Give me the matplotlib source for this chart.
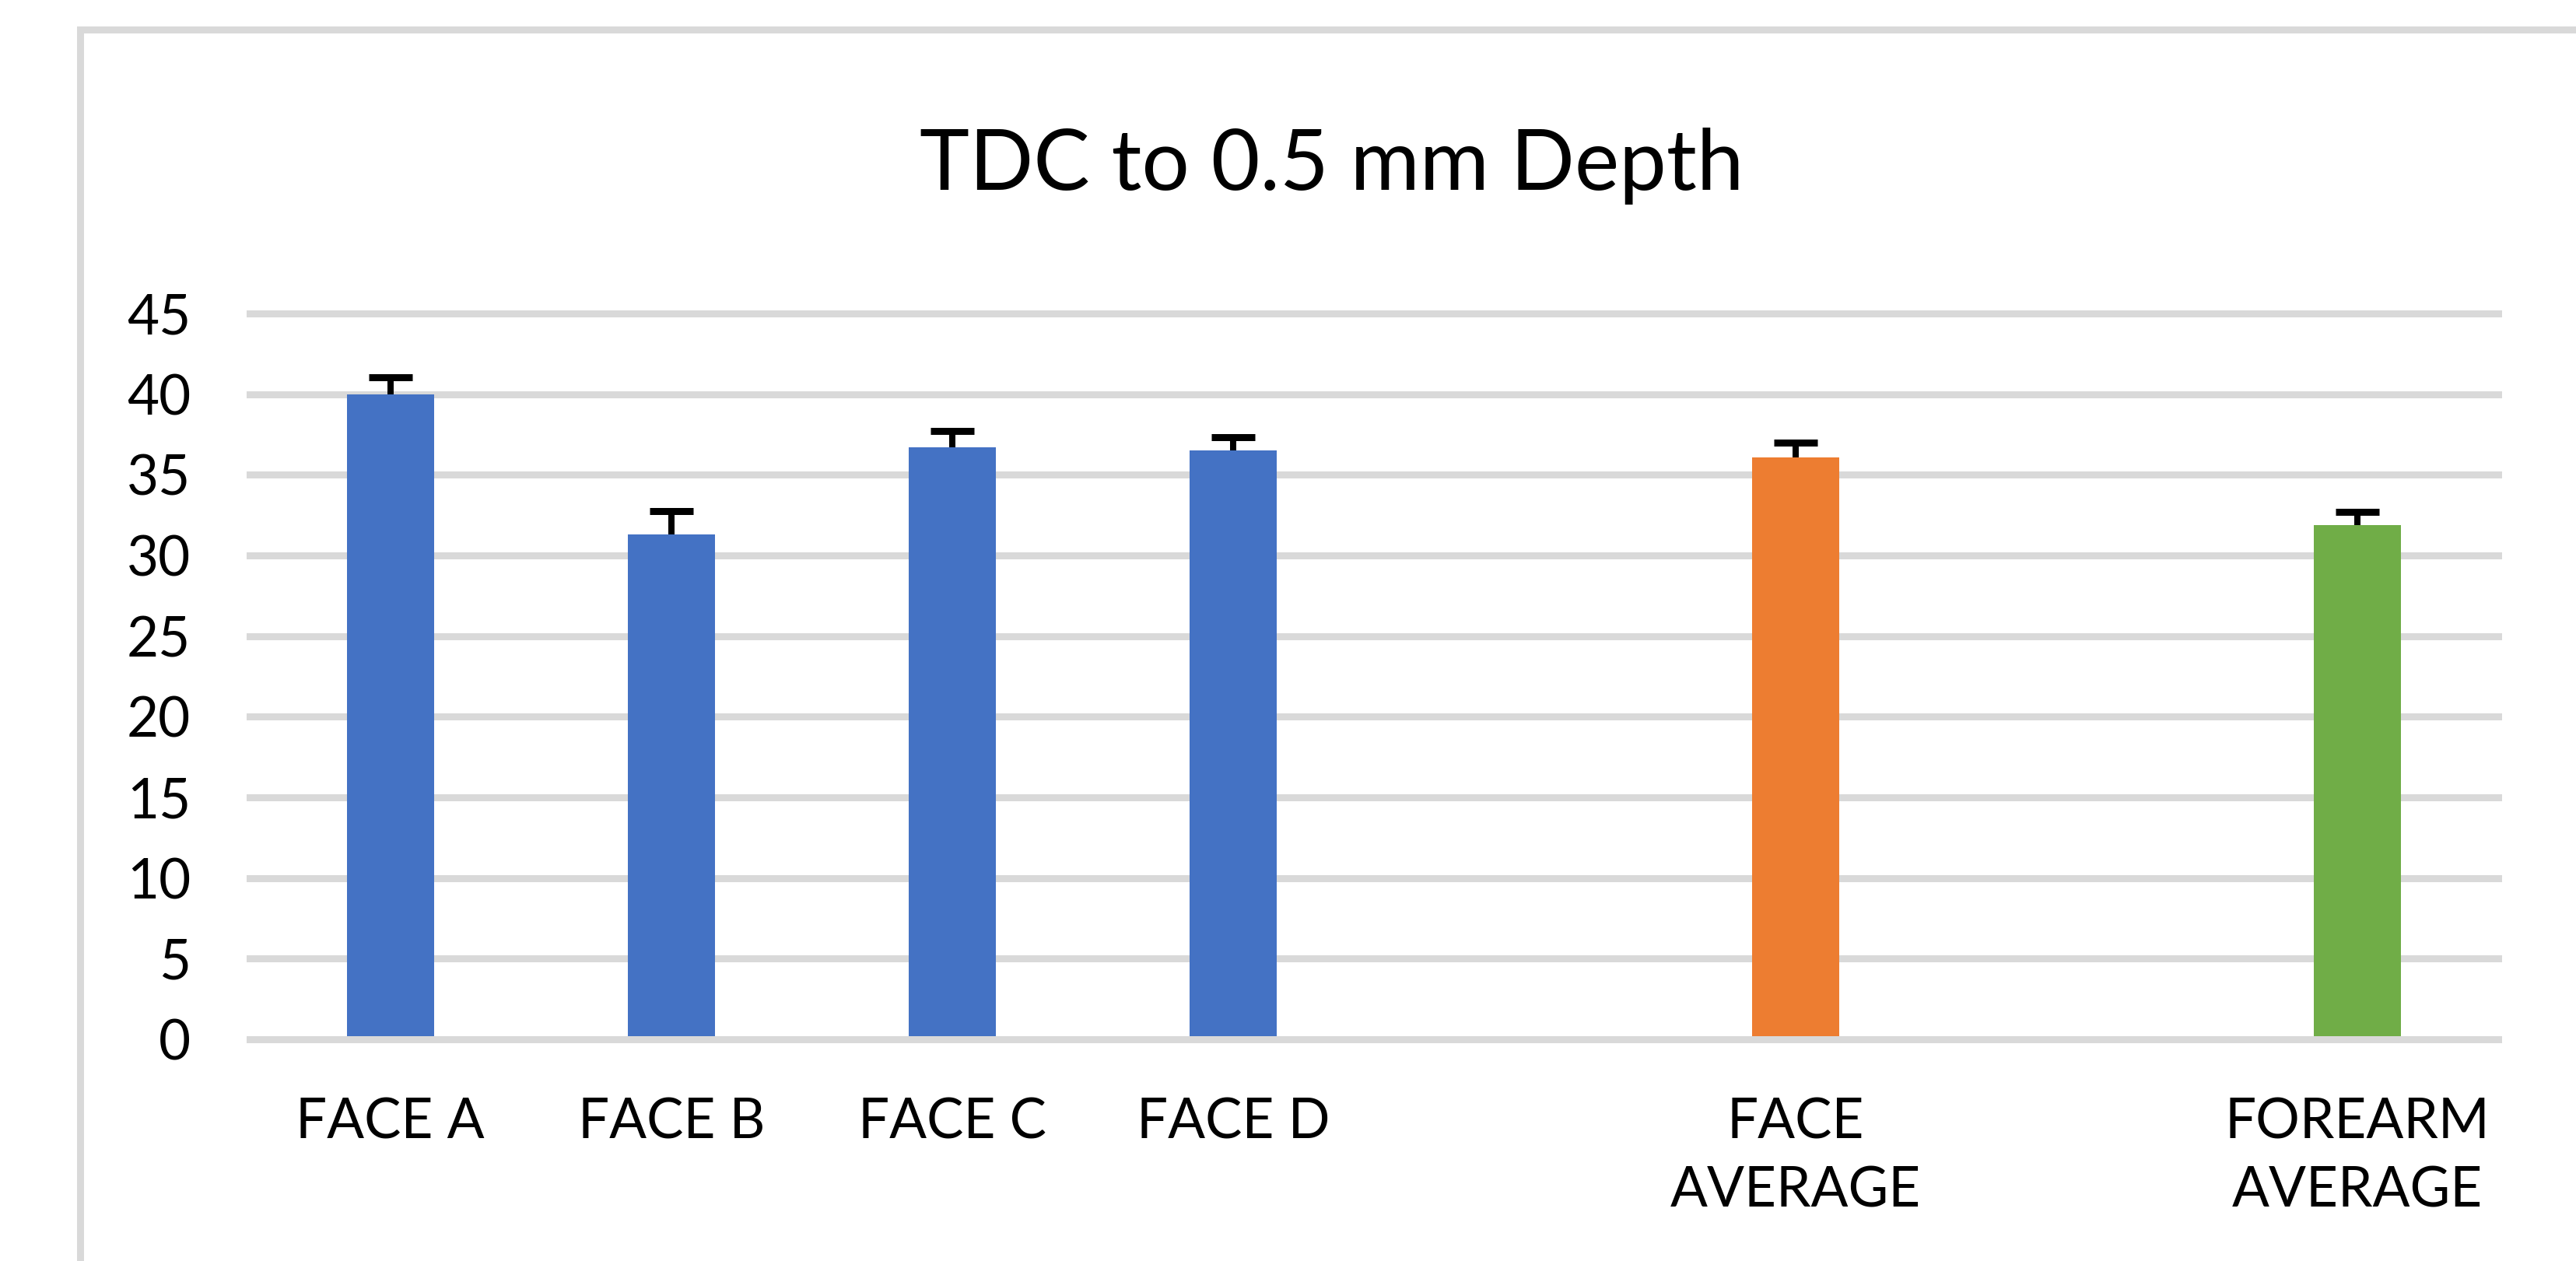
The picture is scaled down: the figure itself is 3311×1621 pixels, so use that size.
import numpy as np
import matplotlib
matplotlib.use("Agg")
import matplotlib.pyplot as plt
from matplotlib.patches import Rectangle

plt.rcParams['font.family'] = ['Lato', 'DejaVu Sans']

# data (blank slots are the gaps between groups)
categories = ["FACE A", "FACE B", "FACE C", "FACE D", "", "FACE\nAVERAGE", "", "FOREARM\nAVERAGE"]
values = [40.0, 31.3, 36.7, 36.5, np.nan, 36.1, np.nan, 31.9]
errors = [1.06, 1.45, 1.04, 0.83, np.nan, 0.87, np.nan, 0.82]
colors = ["#4472C4", "#4472C4", "#4472C4", "#4472C4", "#4472C4", "#ED7D31", "#70AD47", "#70AD47"]
yticks = [0, 5, 10, 15, 20, 25, 30, 35, 40, 45]
title = "TDC to 0.5 mm Depth"

W, H, DPI = 3312, 1621, 200
px = 72.0 / DPI  # one pixel in points

fig = plt.figure(figsize=(W / DPI, H / DPI), dpi=DPI)
ax = fig.add_axes([321 / W, 1 - 1336 / H, (3211 - 321) / W, (1336 - 403) / H])

x = np.arange(len(categories))
ax.bar(x, values, width=0.31, color=colors, zorder=2)
# plus-only error bars, as in Excel
_, caps, _ = ax.errorbar(x, values, yerr=[np.zeros(len(errors)), errors], fmt="none",
                         ecolor="black", elinewidth=8 * px, capsize=28 * px,
                         capthick=9 * px, zorder=3)
caps[0].set_visible(False)

ax.set_xlim(-0.5, len(categories) - 0.5)
ax.set_ylim(0, 45)
for yv in yticks:
    ax.axhline(yv, color="#D9D9D9", lw=9 * px, clip_on=False, zorder=1 if yv else 4)

ax.set_yticks(yticks)
ax.set_xticks(x)
ax.set_xticklabels(categories, linespacing=1.45)
ax.tick_params(axis="y", length=0, pad=76 * px, labelsize=25.5)
ax.tick_params(axis="x", length=0, pad=74 * px, labelsize=25.5)
for s in ax.spines.values():
    s.set_visible(False)

fig.text(1712 / W, 1 - 244 / H, title, ha="center", va="baseline", fontsize=39)

# light grey chart frame, running off the right and bottom edges
fig.patches.append(Rectangle((103.5 / W, -0.2), 1.2, 1.2 - 37.5 / H,
                             transform=fig.transFigure, fill=False,
                             edgecolor="#D9D9D9", lw=9 * px))

fig.savefig("out.png", dpi=DPI, facecolor="white")
